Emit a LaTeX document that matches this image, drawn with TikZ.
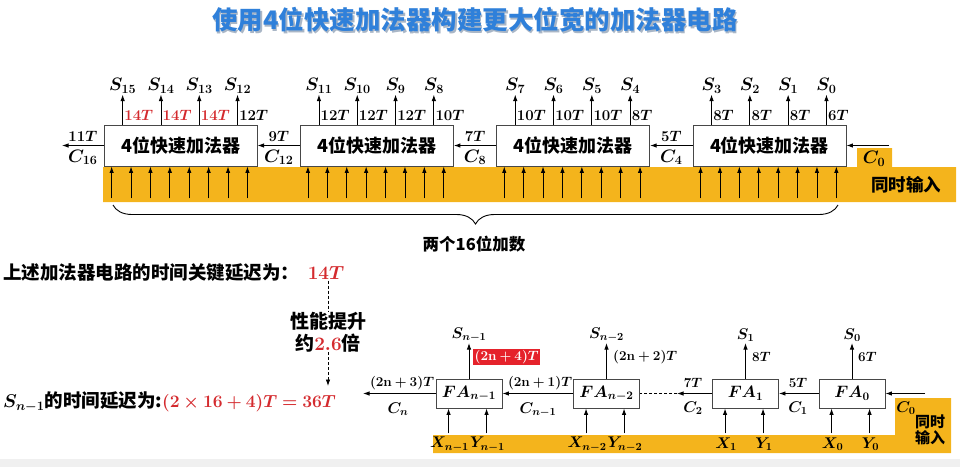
\RequirePackage{fix-cm}
\documentclass[tikz,border=0pt]{standalone}
\usepackage[no-math]{fontspec}
\setmainfont{Noto Sans CJK SC}
\usepackage{amsmath,bm}
\usepackage{tikz}
\usetikzlibrary{arrows.meta,positioning,calc,decorations.pathreplacing}
\definecolor{titleblue}{HTML}{2F80DA}
\definecolor{shade}{HTML}{A9B6C6}
\definecolor{band}{HTML}{F4B41C}
\definecolor{hot}{HTML}{D42A2E}
\definecolor{hotbox}{HTML}{E5222B}
\definecolor{boxline}{HTML}{474747}
\definecolor{floor}{HTML}{F0F0F0}
\tikzset{
  >={Latex[length=6.5pt,width=4.5pt]},
  titletext/.style={font=\bfseries\fontsize{25.5}{27}\selectfont,inner sep=0pt},
  adder/.style={draw=boxline,fill=white,line width=.9pt,minimum width=153pt,minimum height=41pt,inner sep=0pt,font=\bfseries\fontsize{18}{20}\selectfont},
  fabox/.style={draw=boxline,fill=white,line width=.9pt,minimum width=66pt,minimum height=29pt,inner sep=0pt,font=\fontsize{16.5}{18}\selectfont},
  wire/.style={->,line width=.9pt},
  dly/.style={font=\fontsize{15}{16}\selectfont,inner sep=1pt},
  sdly/.style={font=\fontsize{13.5}{14}\selectfont,inner sep=1pt},
  sig/.style={font=\fontsize{18}{19}\selectfont,inner sep=1pt},
  ssig/.style={font=\fontsize{15.5}{16}\selectfont,inner sep=1pt},
  note/.style={font=\bfseries\fontsize{18.5}{21}\selectfont,inner sep=0pt},
  hint/.style={dash pattern=on 3pt off 2pt,line width=.8pt},
}
\begin{document}
\begin{tikzpicture}[x=1pt,y=-1pt]
  \useasboundingbox (0,0) rectangle (960,467);
  \fill[floor] (0,459) rectangle (960,467);

  % title with soft shadow
  \node[titletext,text=shade] at (476.3,21.5) {使用4位快速加法器构建更大位宽的加法器电路};
  \node[titletext,text=titleblue] (title) at (475,20) {使用4位快速加法器构建更大位宽的加法器电路};

  % upper chain: four 4-bit adders
  \fill[band] (103,167) -- (857,167) -- (857,148) -- (892,148) -- (892,167)
    -- (956,167) -- (956,202) -- (103,202) -- cycle;
  \foreach \b in {0,...,3} {
    \node[adder] (add\b) at ({769.5-196.3*\b},145.5) {4位快速加法器};
  }
  \foreach \b in {0,...,3} {
    \foreach \j in {0,...,3} {
      \pgfmathtruncatemacro{\s}{4*\b+3-\j}
      \pgfmathtruncatemacro{\t}{\j<3 ? 2*\b+8 : 2*\b+6}
      \ifnum\b=3 \ifnum\j<3 \def\dc{hot}\else\def\dc{black}\fi\else\def\dc{black}\fi
      \coordinate (s\s) at ($(add\b.north west)+(19+38.3*\j,-30)$);
      \draw[wire] (add\b.north -| s\s) -- (s\s);
      \node[sig,anchor=south] at (s\s) {$\bm{S_{\s}}$};
      \node[dly,anchor=west,text=\dc] at ($(s\s)+(0.5,21)$) {$\bm{\t T}$};
    }
    \foreach \k in {0,...,7}
      \draw[wire] ($(add\b.south west)+(8+19.4*\k,32)$) -- ($(add\b.south west)+(8+19.4*\k,0)$);
  }
  % carries between the adders
  \coordinate (c16) at (62,145.5);
  \foreach \b in {0,...,3} {
    \pgfmathtruncatemacro{\t}{2*\b+5}
    \pgfmathtruncatemacro{\c}{4*\b+4}
    \pgfmathtruncatemacro{\nb}{\b+1}
    \ifnum\b=3
      \draw[wire] (add3.west) -- (c16);
      \path (add3.west) -- (c16) coordinate[midway] (cm\b);
    \else
      \draw[wire] (add\b.west) -- (add\nb.east);
      \path (add\b.west) -- (add\nb.east) coordinate[midway] (cm\b);
    \fi
    \node[dly,anchor=south] at ($(cm\b)+(0,-3)$) {$\bm{\t T}$};
    \node[sig,anchor=north] at ($(cm\b)+(0,3)$) {$\bm{C_{\c}}$};
  }
  \coordinate (c0in) at (889,145.5);
  \draw[wire] (c0in) -- (add0.east);
  \node[sig] at (874,159) {$\bm{C_0}$};
  \node[font=\bfseries\fontsize{17.5}{18}\selectfont] at (906,185) {同时输入};

  % the two 16-bit addends
  \coordinate (bl) at (113,205);
  \coordinate (br) at (838,205);
  \draw[decorate,decoration={brace,mirror,amplitude=19pt},line width=.9pt] (bl) -- (br);
  \node[font=\bfseries\fontsize{16.5}{18}\selectfont] (addends) at (474,244) {两个16位加数};

  % critical delay, comparison
  \node[note,anchor=west] (critlbl) at (3,273) {上述加法器电路的时间关键延迟为：};
  \node[font=\fontsize{19}{20}\selectfont,text=hot,inner sep=1pt] (crit) at (326,273) {$\bm{14T}$};
  \node[note,align=center,font=\bfseries\fontsize{19}{22}\selectfont] (gain) at (328,332) {性能提升\\约\textcolor{hot}{$\bm{2.6}$}倍};
  \coordinate (tip) at (328,386);
  \draw[hint] (crit.south -| gain) -- (gain.north);
  \draw[hint,->] (gain.south) -- (tip);
  \node[note,anchor=west] (sdelay) at (3,402)
    {$\bm{S_{n-1}}$的时间延迟为:\textcolor{hot}{\fontsize{17.5}{20}\selectfont$\bm{(2\times 16+4)T=36T}$}};

  % lower chain: ripple adder of FA cells
  \fill[band] (433,435) -- (895,435) -- (895,398) -- (951,398) -- (951,453) -- (433,453) -- cycle;
  \foreach \n/\x/\i in {fan1/469/n-1, fan2/606.5/n-2, fa1/745.5/1, fa0/852/0} {
    \node[fabox] (\n) at (\x,393.5) {$\bm{FA_{\i}}$};
    \coordinate (\n s) at (\x,343);
    \draw[wire] (\n.north) -- (\n s);
    \node[ssig,anchor=south] at (\n s) {$\bm{S_{\i}}$};
    \draw[wire] ($(\n.south west)+(13,25)$) -- ($(\n.south west)+(13,0)$);
    \draw[wire] ($(\n.south west)+(51,25)$) -- ($(\n.south west)+(51,0)$);
    \node[ssig] at ($(\n.south west)+(14,36)$) {$\bm{X_{\i}}$};
    \node[ssig] at ($(\n.south west)+(52,36)$) {$\bm{Y_{\i}}$};
  }
  \node[sdly,anchor=west,fill=hotbox,text=white,inner sep=1.5pt] at (473,357) {$\bm{(2\mathbf{n}+4)T}$};
  \node[sdly,anchor=west] at (612,357) {$\bm{(2\mathbf{n}+2)T}$};
  \node[sdly,anchor=west] at (751,357) {$\bm{8T}$};
  \node[sdly,anchor=west] at (857,357) {$\bm{6T}$};

  \coordinate (cn) at (363,393.5);
  \coordinate (gap) at (677,393.5);
  \coordinate (c0low) at (925,393.5);
  \draw[wire] (fan1.west) -- (cn);
  \draw[wire] (fan2.west) -- (fan1.east);
  \draw[wire] (fa1.west) -- (gap);
  \draw[hint] (gap) -- (fan2.east);
  \draw[wire] (fa0.west) -- (fa1.east);
  \draw[wire] (c0low) -- (fa0.east);
  \node[sdly] at (402,383) {$\bm{(2\mathbf{n}+3)T}$};
  \node[ssig] at (398,409) {$\bm{C_n}$};
  \node[sdly] at (540,383) {$\bm{(2\mathbf{n}+1)T}$};
  \node[ssig] at (538,410) {$\bm{C_{n-1}}$};
  \node[sdly] at (693,383) {$\bm{7T}$};
  \node[ssig] at (693,408) {$\bm{C_2}$};
  \node[sdly] at (798,383) {$\bm{5T}$};
  \node[ssig] at (798,408) {$\bm{C_1}$};
  \node[ssig] at (906,408) {$\bm{C_0}$};
  \node[align=center,font=\bfseries\fontsize{15}{16}\selectfont] at (930,430) {同时\\输入};
\end{tikzpicture}
\end{document}
